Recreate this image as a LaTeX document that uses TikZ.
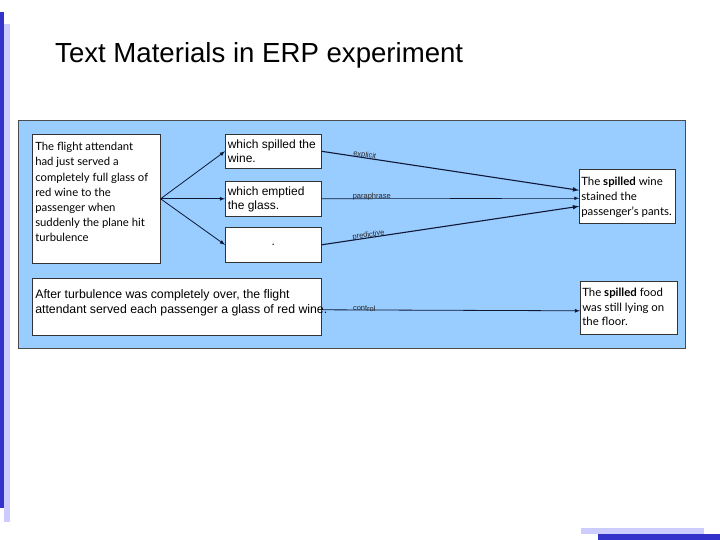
\documentclass[tikz,border=0pt]{standalone}
\usepackage{fontspec}
\setmainfont{Liberation Sans}
\newfontfamily\storyfont{Lato}
\usepackage{tikz}
\usetikzlibrary{arrows}
\usetikzlibrary{positioning}

\definecolor{panelblue}{RGB}{153,204,255}
\definecolor{bardark}{RGB}{51,51,204}
\definecolor{barlight}{RGB}{204,204,255}
\definecolor{linenavy}{RGB}{15,25,55}

\newcommand{\boxpar}[4]{\parbox[c][#2][t]{#1}{\raggedright\vspace*{#3}#4}}

\begin{document}
\begin{tikzpicture}[x=1pt,y=-1pt]
\tikzstyle{every node}=[inner sep=0pt]
\tikzstyle{txtbox}=[draw=black!80,fill=white,anchor=north west,line width=0.6pt,inner sep=3pt]
\tikzstyle{link}=[-latex,draw=linenavy,line width=0.8pt]
\tikzstyle{cond}=[font=\fontsize{7.5}{8}\selectfont,text=black!85,sloped,anchor=south west,inner sep=0pt,yshift=-1.5pt]
\useasboundingbox (0,0) rectangle (720,540);
\fill[bardark] (0,12) rectangle (4,508);
\fill[barlight] (4,24) rectangle (10,522);
\fill[barlight] (581,528) rectangle (704,533.5);
\fill[bardark] (598,533.5) rectangle (720,540);
\node[font=\fontsize{27.6}{30}\selectfont,anchor=base west] (title) at (55,63) {Text Materials in ERP experiment};
\draw[fill=panelblue,draw=black!70,line width=0.7pt] (18,120) rectangle (685,348);
\node[txtbox,font=\storyfont\fontsize{11.3}{15.2}\selectfont] (story) at (32,134)
	{\boxpar{122pt}{123pt}{5pt}{The flight attendant\\ had just served a\\ completely full glass of\\ red wine to the\\ passenger when\\ suddenly the plane hit\\ turbulence}};
\node[txtbox,inner sep=2.5pt,font=\fontsize{12}{14.5}\selectfont] (spill) at (225,134)
	{\boxpar{91pt}{29pt}{3pt}{\mbox{which spilled the}\\ wine.}};
\node[txtbox,inner sep=2.5pt,font=\fontsize{12}{14.5}\selectfont] (empty) at (225,181)
	{\boxpar{91pt}{30pt}{3pt}{which emptied\\ the glass.}};
\node[txtbox,minimum width=96pt,minimum height=35pt,font=\fontsize{12}{14.5}\selectfont] (blank) at (225,227) {.};
\node[txtbox,font=\fontsize{12.3}{15}\selectfont] (after) at (32,278)
	{\boxpar{283pt}{51pt}{8pt}{\mbox{After turbulence was completely over, the flight}\\ \mbox{attendant served each passenger a glass of red wine.}}};
\node[txtbox,inner sep=2pt,font=\storyfont\fontsize{11.4}{15}\selectfont] (wine) at (579,169)
	{\boxpar{92pt}{50pt}{6pt}{The \textbf{spilled} wine\\ stained the\\ \mbox{passenger’s pants.}}};
\node[txtbox,inner sep=2pt,font=\storyfont\fontsize{11.4}{14.6}\selectfont] (floor) at (580,281)
	{\boxpar{93pt}{49pt}{5pt}{The \textbf{spilled} food\\ was still lying on\\ the floor.}};
\draw[link] (story.east) -- (spill.west);
\draw[link] (story.east) -- (empty.west);
\draw[link] (story.east) -- (blank.west);
\draw[link,line width=1.1pt] (spill.east) -- node[cond,pos=0.12] {explicit} ([yshift=6pt]wine.west);
\draw[link,line width=0.6pt] (empty.east) -- node[cond,pos=0.12] {paraphrase} ([yshift=-2pt]wine.west);
\draw[link,line width=1.1pt] (blank.east) -- node[cond,pos=0.12] {predictive} ([yshift=-10pt]wine.west);
\draw[link] ([yshift=-3pt]after.east) -- node[cond,pos=0.12] {control} ([yshift=-3pt]floor.west);
\end{tikzpicture}
\end{document}
